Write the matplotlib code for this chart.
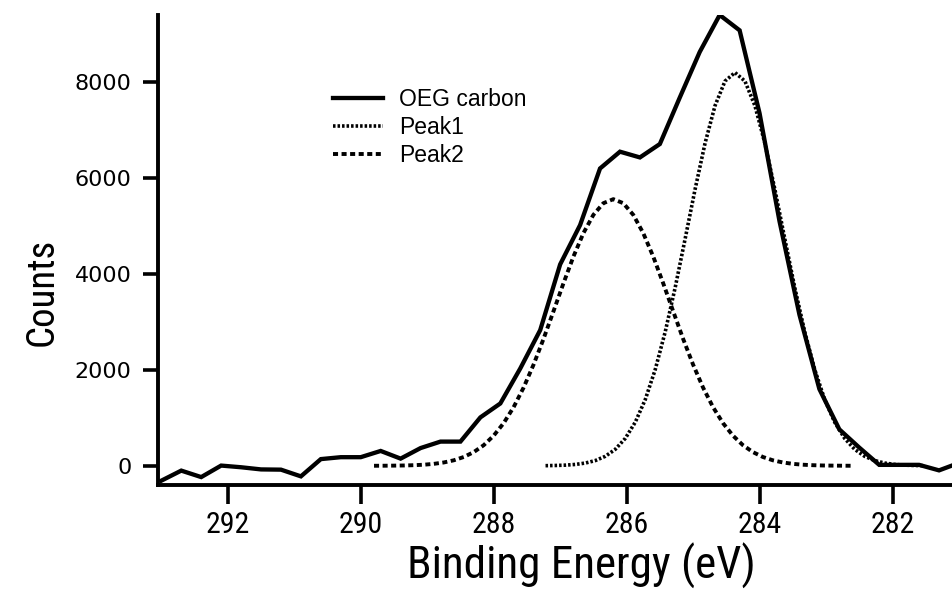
import matplotlib
matplotlib.use("Agg")
import matplotlib.pyplot as plt
from matplotlib import font_manager as fm

# ---- data -------------------------------------------------------------
# OEG carbon spectrum (binding energy in eV, counts)
oeg_energy = [293.0, 292.7, 292.4, 292.1, 291.8, 291.5, 291.2, 290.9, 290.6, 290.3,
              290.0, 289.7, 289.4, 289.1, 288.8, 288.5, 288.2, 287.9, 287.6, 287.3,
              287.0, 286.7, 286.4, 286.1, 285.8, 285.5, 285.2, 284.9, 284.6, 284.3,
              284.0, 283.7, 283.4, 283.1, 282.8, 282.5, 282.2, 281.9, 281.6, 281.3,
              281.0]
oeg_counts = [-310, -100, -235, 5, -30, -75, -80, -220, 140, 180,
              180, 310, 150, 370, 505, 505, 1010, 1300, 2030, 2830,
              4200, 5020, 6200, 6550, 6430, 6710, 7680, 8630, 9400, 9080,
              7350, 5100, 3150, 1600, 760, 380, 20, 20, 20, -95,
              60]

# Peak1 fit component
peak1_energy = [287.22, 287.07, 286.92, 286.77, 286.62, 286.47, 286.32, 286.17, 286.02, 285.87,
                285.72, 285.57, 285.42, 285.27, 285.12, 284.97, 284.82, 284.67, 284.52, 284.37,
                284.22, 284.07, 283.92, 283.77, 283.62, 283.47, 283.32, 283.17, 283.02, 282.87,
                282.72, 282.57, 282.42, 282.27, 282.12, 281.97, 281.82, 281.67, 281.52]
peak1_counts = [3, 7, 14, 29, 58, 110, 199, 345, 572, 909,
                1380, 2006, 2790, 3714, 4731, 5766, 6727, 7509, 8021, 8200,
                8021, 7509, 6727, 5766, 4731, 3714, 2790, 2006, 1380, 909,
                572, 345, 199, 110, 58, 29, 14, 7, 3]

# Peak2 fit component
peak2_energy = [289.8, 289.65, 289.5, 289.35, 289.2, 289.05, 288.9, 288.75, 288.6, 288.45,
                288.3, 288.15, 288.0, 287.85, 287.7, 287.55, 287.4, 287.25, 287.1, 286.95,
                286.8, 286.65, 286.5, 286.35, 286.2, 286.05, 285.9, 285.75, 285.6, 285.45,
                285.3, 285.15, 285.0, 284.85, 284.7, 284.55, 284.4, 284.25, 284.1, 283.95,
                283.8, 283.65, 283.5, 283.35, 283.2, 283.05, 282.9, 282.75, 282.6]
peak2_counts = [1, 2, 4, 7, 13, 23, 41, 70, 115, 184,
                286, 430, 629, 890, 1223, 1631, 2110, 2647, 3224, 3807,
                4364, 4852, 5233, 5476, 5560, 5476, 5233, 4852, 4364, 3807,
                3224, 2647, 2110, 1631, 1223, 890, 629, 430, 286, 184,
                115, 70, 41, 23, 13, 7, 4, 2, 1]

x_ticks = [292, 290, 288, 286, 284, 282]
y_ticks = [0, 2000, 4000, 6000, 8000]


# ---- fonts ------------------------------------------------------------
def pick_condensed():
    prefs = ["Liberation Sans Narrow", "Roboto Condensed", "Open Sans Condensed",
             "Noto Sans Condensed", "DejaVu Sans Condensed"]
    fonts = fm.fontManager.ttflist
    for name in prefs:
        for f in fonts:
            if f.name == name and f.style == "normal" and f.weight in (400, "normal", "regular"):
                return fm.FontProperties(fname=f.fname)
    for f in fonts:
        st = f.stretch
        if (isinstance(st, str) and "condensed" in st) and f.style == "normal" \
                and f.weight in (400, "normal", "regular") and "Mono" not in f.name \
                and "Serif" not in f.name and "CJK" not in f.name:
            return fm.FontProperties(fname=f.fname)
    return fm.FontProperties(family="DejaVu Sans", stretch="condensed")


cond = pick_condensed()


def cfont(size):
    p = cond.copy()
    p.set_size(size)
    return p


# ---- figure -----------------------------------------------------------
W, H = 953, 597
fig = plt.figure(figsize=(W / 100, H / 100), dpi=100)
left, right, bottom, top = 158, 953, 485, 15
ax = fig.add_axes([left / W, (H - bottom) / H, (right - left) / W, (bottom - top) / H])

ax.plot(oeg_energy, oeg_counts, color="black", lw=3.1, solid_joinstyle="miter",
        label="OEG carbon")
ax.plot(peak1_energy, peak1_counts, color="black", lw=2.6, linestyle=(0, (0.7, 0.55)),
        label="Peak1")
ax.plot(peak2_energy, peak2_counts, color="black", lw=2.8, linestyle=(0, (1.3, 0.9)),
        label="Peak2")

ax.set_xlim(293.05, 281.09)
ax.set_ylim(-400, 9400)

for s in ("top", "right"):
    ax.spines[s].set_visible(False)
for s in ("left", "bottom"):
    ax.spines[s].set_linewidth(2.8)

ax.set_xticks(x_ticks)
ax.set_xticklabels([str(t) for t in x_ticks], fontproperties=cfont(21.5))
ax.set_yticks(y_ticks)
ax.set_yticklabels([str(t) for t in y_ticks], fontsize=16, family="DejaVu Sans")
ax.tick_params(axis="x", direction="out", length=14, width=2.6, pad=5)
ax.tick_params(axis="y", direction="out", length=11, width=2.6, pad=8)

ax.set_xlabel("Binding Energy (eV)", fontproperties=cfont(32.5))
ax.xaxis.set_label_coords(0.533, -0.124, transform=ax.transAxes)
ax.xaxis.label.set_va("top")
ax.set_ylabel("Counts", fontproperties=cfont(28))
ax.yaxis.set_label_coords(-0.122, 0.41, transform=ax.transAxes)

leg = ax.legend(loc="upper left", bbox_to_anchor=(0.194, 0.888), frameon=False,
                prop={"family": "Liberation Sans", "size": 16.5},
                handlelength=2.2, handletextpad=0.7, labelspacing=0.22)

fig.savefig("out.png", dpi=100)
